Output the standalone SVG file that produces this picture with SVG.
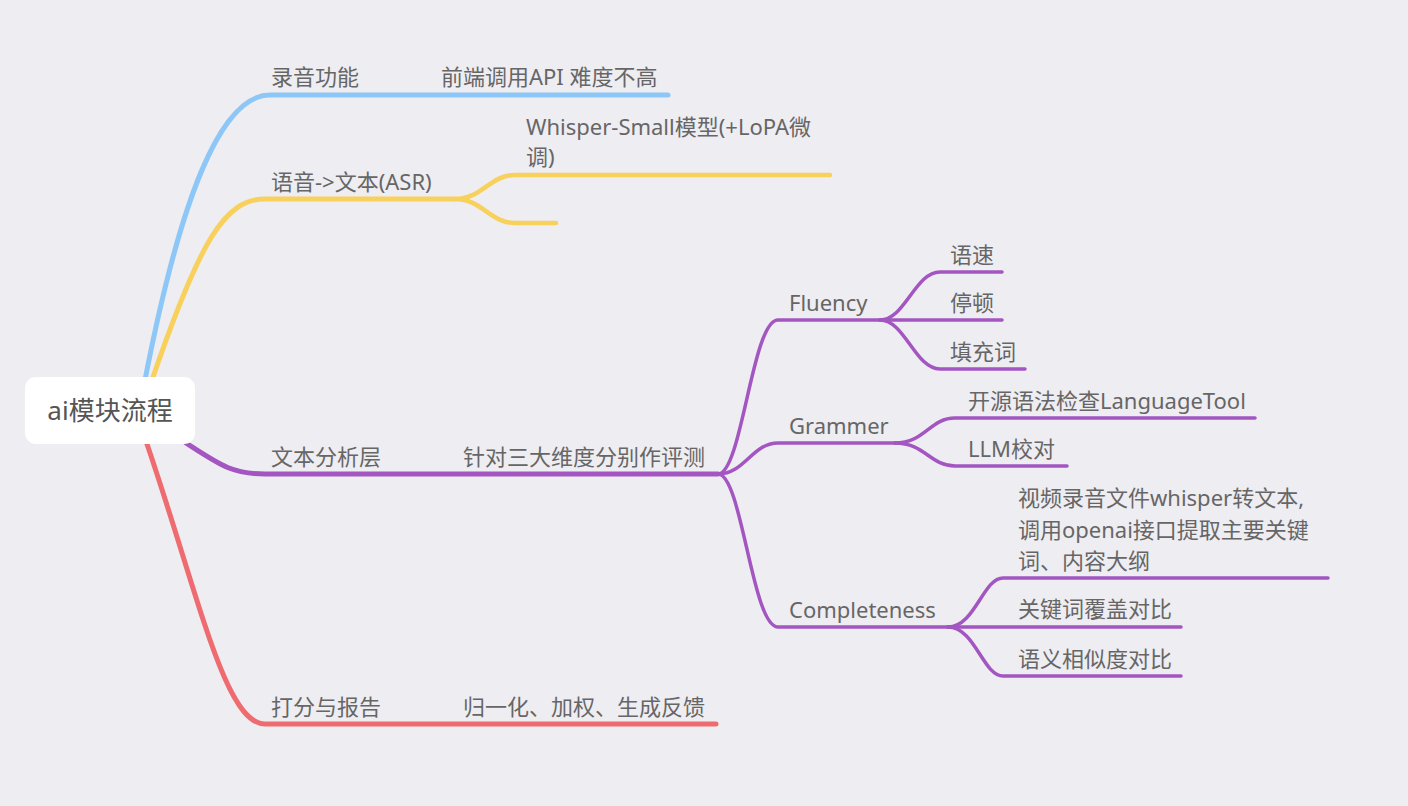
<svg xmlns="http://www.w3.org/2000/svg" width="1408" height="806" viewBox="0 0 1408 806">
<style>
.t{font-family:"Noto Sans","Noto Sans CJK SC",sans-serif;font-size:22px;fill:#666}
.r{font-family:"Noto Sans","Noto Sans CJK SC",sans-serif;font-size:26px;fill:#555}
.l{fill:none;stroke-linecap:round;stroke-linejoin:round}
.m{stroke-width:5}
.s{stroke-width:3.5}
.sy{stroke-width:4.5}
.b{stroke:#8cc7f8}.y{stroke:#f8d05c}.p{stroke:#a356c1}.rd{stroke:#ee6b6f}
</style>
<rect width="1408" height="806" fill="#eeedf2"/>
<g id="connectors">
<path class="l m b" d="M145,380 C180,200 220,95 270,95 L668,95"/>
<path class="l m y" d="M152,380 C200,240 225,199 265,199 L455,199"/>
<path class="l sy y" d="M455,199 C482,199 490,175 515,175 L830,175"/>
<path class="l sy y" d="M455,199 C482,199 490,223 515,223 L556,223"/>
<path class="l m p" d="M186,443 C220,465 232,474 265,474 L718,474"/>
<path class="l s p" d="M718,474 C742,474 752,320 778,320 L880,320"/>
<path class="l s p" d="M718,474 C745,474 752,443 778,443 L895,443"/>
<path class="l s p" d="M718,474 C742,474 752,627 778,627 L948,627"/>
<path class="l s p" d="M880,320 C905,320 915,272 940,272 L1002,272"/>
<path class="l s p" d="M880,320 L1002,320"/>
<path class="l s p" d="M880,320 C905,320 915,369 940,369 L1025,369"/>
<path class="l s p" d="M895,443 C925,443 930,418 955,418 L1255,418"/>
<path class="l s p" d="M895,443 C925,443 930,466 955,466 L1067,466"/>
<path class="l s p" d="M948,627 C975,627 983,578 1003,578 L1328,578"/>
<path class="l s p" d="M948,627 L1181,627"/>
<path class="l s p" d="M948,627 C975,627 983,676 1003,676 L1181,676"/>
<path class="l m rd" d="M147,444 C200,600 225,724 265,724 L716,724"/>
</g>
<g id="root"><rect x="25" y="377" width="170" height="67" rx="11" fill="#fff"/><text class="r" x="110" y="420" text-anchor="middle">ai模块流程</text></g>
<g id="n1"><text class="t" x="271" y="85">录音功能</text></g>
<g id="n1a"><text class="t" x="441" y="85">前端调用API 难度不高</text></g>
<g id="n2"><text class="t" x="271" y="190">语音-&gt;文本(ASR)</text></g>
<g id="n2a"><text class="t" x="526" y="135">Whisper-Small模型(+LoPA微</text><text class="t" x="526" y="165">调)</text></g>
<g id="n3"><text class="t" x="271" y="465">文本分析层</text></g>
<g id="n3a"><text class="t" x="463" y="465">针对三大维度分别作评测</text></g>
<g id="fluency"><text class="t" x="789" y="311">Fluency</text></g>
<g id="f1"><text class="t" x="950" y="263">语速</text></g>
<g id="f2"><text class="t" x="950" y="311">停顿</text></g>
<g id="f3"><text class="t" x="950" y="360">填充词</text></g>
<g id="grammer"><text class="t" x="789" y="434">Grammer</text></g>
<g id="g1"><text class="t" x="968" y="409">开源语法检查LanguageTool</text></g>
<g id="g2"><text class="t" x="968" y="457">LLM校对</text></g>
<g id="completeness"><text class="t" x="789" y="618">Completeness</text></g>
<g id="c1"><text class="t" x="1018" y="506">视频录音文件whisper转文本,</text><text class="t" x="1018" y="538">调用openai接口提取主要关键</text><text class="t" x="1018" y="569">词、内容大纲</text></g>
<g id="c2"><text class="t" x="1018" y="617">关键词覆盖对比</text></g>
<g id="c3"><text class="t" x="1018" y="667">语义相似度对比</text></g>
<g id="n4"><text class="t" x="271" y="715">打分与报告</text></g>
<g id="n4a"><text class="t" x="463" y="715">归一化、加权、生成反馈</text></g>
</svg>
